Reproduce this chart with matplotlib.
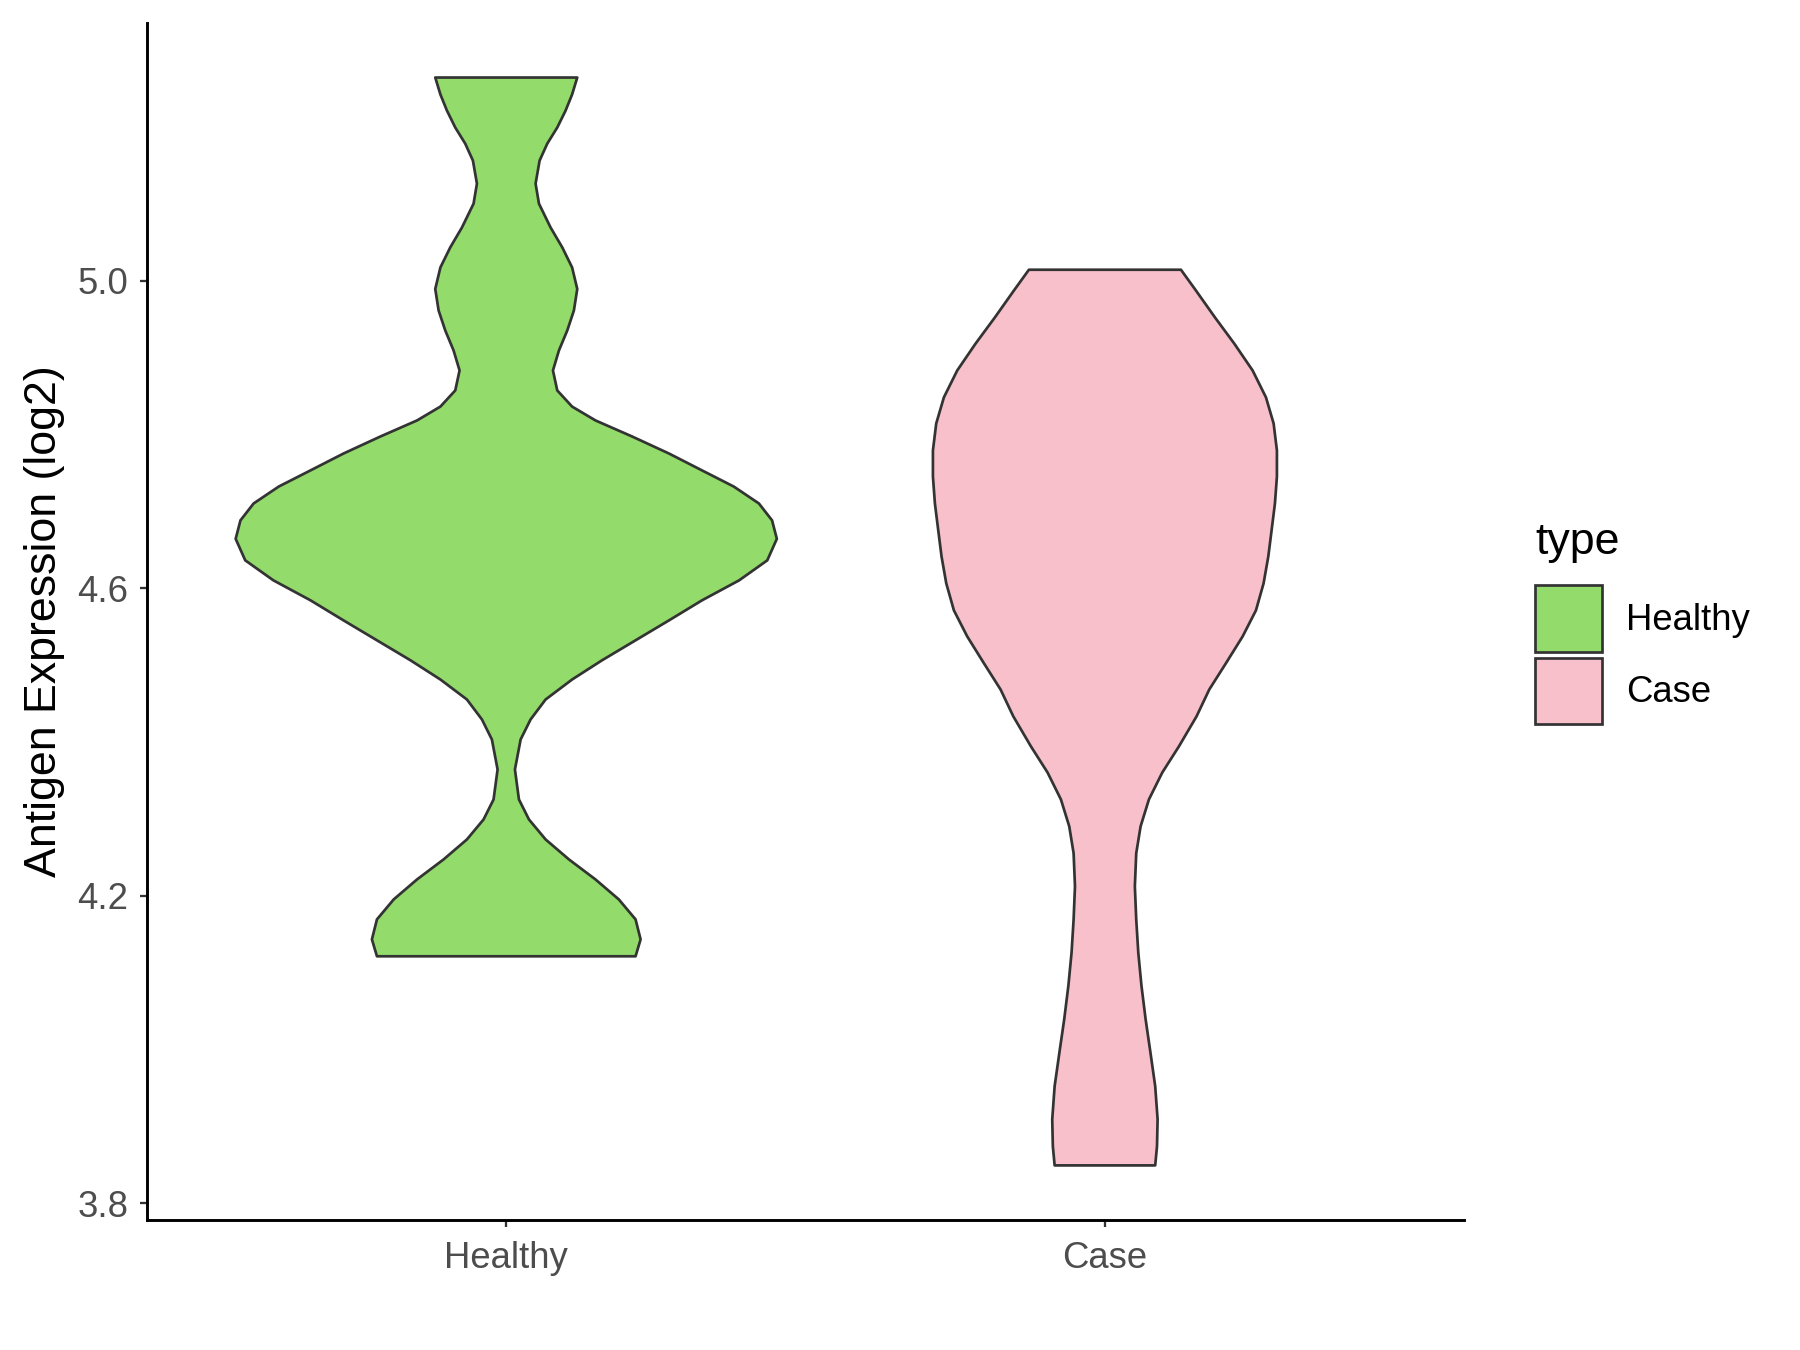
import numpy as np
import matplotlib.pyplot as plt
from matplotlib.patches import Patch

plt.rcParams['font.family'] = ['Liberation Sans', 'DejaVu Sans']

groups = ['Healthy', 'Case']
fills = ['#93DB6B', '#F7C0CB']
outline = '#333333'

# violin half-widths (x units) at each expression level
healthy_y = [4.121, 4.143, 4.169, 4.195, 4.221, 4.247, 4.273, 4.299, 4.325, 4.364,
             4.403, 4.429, 4.455, 4.481, 4.506, 4.532, 4.558, 4.584, 4.610, 4.636,
             4.664, 4.688, 4.710, 4.732, 4.753, 4.775, 4.797, 4.818, 4.836, 4.857,
             4.883, 4.909, 4.935, 4.961, 4.989, 5.017, 5.043, 5.069, 5.100, 5.126,
             5.156, 5.178, 5.199, 5.221, 5.242, 5.264]
healthy_w = [0.216, 0.2244, 0.216, 0.188, 0.149, 0.1047, 0.0657, 0.0379, 0.0212, 0.0145,
             0.024, 0.0406, 0.0657, 0.110, 0.160, 0.216, 0.272, 0.327, 0.389, 0.436,
             0.452, 0.444, 0.422, 0.380, 0.327, 0.2717, 0.2105, 0.149, 0.110, 0.0852,
             0.078, 0.088, 0.1019, 0.113, 0.1186, 0.110, 0.0936, 0.074, 0.0546, 0.049,
             0.0557, 0.0685, 0.0852, 0.0991, 0.110, 0.1186]

case_y = [3.849, 3.874, 3.909, 3.952, 3.996, 4.039, 4.083, 4.126, 4.169, 4.212,
          4.255, 4.290, 4.325, 4.360, 4.394, 4.433, 4.468, 4.502, 4.537, 4.571,
          4.606, 4.641, 4.675, 4.710, 4.745, 4.779, 4.814, 4.848, 4.883, 4.918,
          4.952, 4.987, 5.014]
case_w = [0.084, 0.087, 0.088, 0.084, 0.076, 0.068, 0.061, 0.0557, 0.0523, 0.050,
          0.0523, 0.0596, 0.0735, 0.0958, 0.1236, 0.153, 0.1743, 0.202, 0.230, 0.2523,
          0.265, 0.2729, 0.2784, 0.284, 0.2873, 0.2873, 0.2818, 0.269, 0.2467, 0.216,
          0.1838, 0.152, 0.127]

yticks = [3.8, 4.2, 4.6, 5.0]


def draw_violin(ax, pos, ys, ws, color):
  ys = np.array(ys)
  ws = np.array(ws)
  xs = np.concatenate([pos - ws, (pos + ws)[::-1]])
  yy = np.concatenate([ys, ys[::-1]])
  ax.fill(xs, yy, facecolor=color, edgecolor=outline, linewidth=1.3, joinstyle='round')


fig = plt.figure(figsize=(12, 9), dpi=150)
ax = fig.add_axes([0.0817, 0.0963, 0.7317, 0.8867])

draw_violin(ax, 1, healthy_y, healthy_w, fills[0])
draw_violin(ax, 2, case_y, case_w, fills[1])

ax.set_xlim(0.4, 2.6)
ax.set_ylim(3.778, 5.335)
ax.set_xticks([1, 2])
ax.set_xticklabels(groups)
ax.set_yticks(yticks)
ax.set_yticklabels([f"{t:.1f}" for t in yticks])
ax.tick_params(axis='both', labelsize=17.5, labelcolor='#4D4D4D', color='#333333',
               length=3.4, width=1.1)
ax.tick_params(axis='x', pad=6.5)
ax.tick_params(axis='y', pad=5.5)
for side in ['top', 'right']:
  ax.spines[side].set_visible(False)
for side in ['left', 'bottom']:
  ax.spines[side].set_linewidth(1.4)
  ax.spines[side].set_color('black')
ax.set_ylabel('Antigen Expression (log2)', fontsize=21.5, labelpad=6)

handles = [Patch(facecolor=c, edgecolor=outline, linewidth=1.3) for c in fills]
leg = fig.legend(handles, groups, title='type', loc='upper left',
                 bbox_to_anchor=(0.853, 0.613), frameon=False, fontsize=17.5,
                 title_fontsize=21.5, handlelength=1.83, handleheight=2.43,
                 handletextpad=0.65, labelspacing=0.16, borderpad=0, borderaxespad=0,
                 alignment='left')
# more room between the title and the keys, as in the original
leg._legend_box.sep = 10.5

fig.savefig('out.png', dpi=150)
